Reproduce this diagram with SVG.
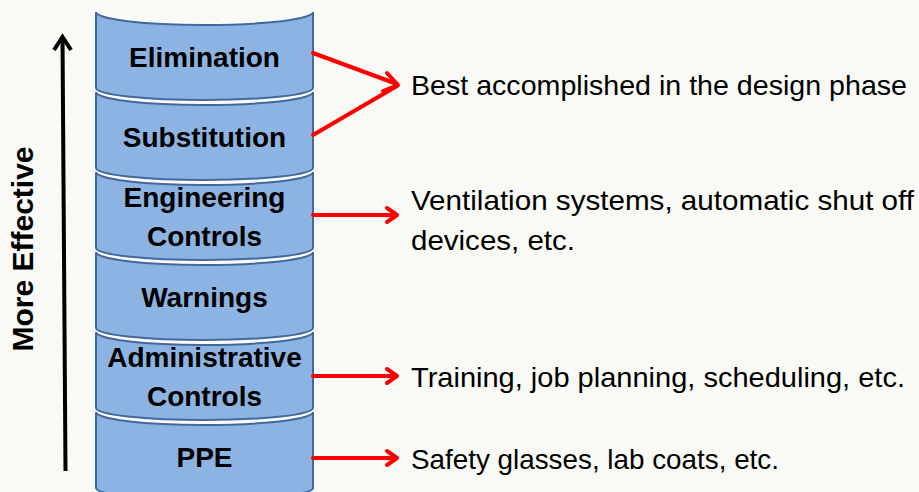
<svg xmlns="http://www.w3.org/2000/svg" width="919" height="492" viewBox="0 0 919 492">
<defs>
<style>
.cyl{fill:#8db3e2;stroke:#41699d;stroke-width:2}
.halo{fill:none;stroke:#ffffff;stroke-width:4}
.lbl{font-family:"Liberation Sans",Arial,sans-serif;font-weight:bold;font-size:28px;fill:#000;text-anchor:middle}
.txt{font-family:"Liberation Sans",Arial,sans-serif;font-size:28px;fill:#000}
.red{stroke:#ff0000;stroke-width:4;fill:none;stroke-linecap:round;stroke-linejoin:round}
</style>
<path id="cylShape" d="M96,0 A108.5,13 0 0 0 313,0 L313,76 A108.5,12 0 0 1 96,76 Z"/>
</defs>
<rect x="0" y="0" width="919" height="492" fill="#f9f9f5"/>
<g id="elimination">
<use href="#cylShape" class="halo" y="12"/>
<use href="#cylShape" class="cyl" y="12"/>
<text class="lbl" x="204.5" y="66.5">Elimination</text>
</g>
<g id="substitution">
<use href="#cylShape" class="halo" y="92"/>
<use href="#cylShape" class="cyl" y="92"/>
<text class="lbl" x="204.5" y="146.5">Substitution</text>
</g>
<g id="engineering">
<use href="#cylShape" class="halo" y="172"/>
<use href="#cylShape" class="cyl" y="172"/>
<text class="lbl" x="204.5" y="207">Engineering</text>
<text class="lbl" x="204.5" y="246">Controls</text>
</g>
<g id="warnings">
<use href="#cylShape" class="halo" y="252"/>
<use href="#cylShape" class="cyl" y="252"/>
<text class="lbl" x="204.5" y="306.5">Warnings</text>
</g>
<g id="administrative">
<use href="#cylShape" class="halo" y="332"/>
<use href="#cylShape" class="cyl" y="332"/>
<text class="lbl" x="204.5" y="367">Administrative</text>
<text class="lbl" x="204.5" y="406">Controls</text>
</g>
<g id="ppe">
<use href="#cylShape" class="halo" y="412"/>
<use href="#cylShape" class="cyl" y="412"/>
<text class="lbl" x="204.5" y="466.5">PPE</text>
</g>
<g id="axis">
<line x1="65.5" y1="471" x2="62.5" y2="37" stroke="#000" stroke-width="4"/>
<polyline points="54,50 62.5,37 71,50" fill="none" stroke="#000" stroke-width="4" stroke-linejoin="miter"/>
<text class="lbl" style="font-size:30px" transform="translate(33,249) rotate(-90)">More Effective</text>
</g>
<g id="connectors">
<line class="red" x1="313" y1="53" x2="397" y2="84"/>
<line class="red" x1="313" y1="135" x2="397" y2="86"/>
<polyline class="red" points="387,73 398,85 383,91"/>
<line class="red" x1="313" y1="215" x2="396" y2="215"/>
<polyline class="red" points="387,208 397,215 387,222"/>
<line class="red" x1="313" y1="376" x2="396" y2="376"/>
<polyline class="red" points="387,369 397,376 387,383"/>
<line class="red" x1="313" y1="458" x2="396" y2="458"/>
<polyline class="red" points="387,451 397,458 387,465"/>
</g>
<g id="notes">
<text class="txt" x="411" y="95" textLength="496" lengthAdjust="spacingAndGlyphs">Best accomplished in the design phase</text>
<text class="txt" x="411" y="210" textLength="503" lengthAdjust="spacingAndGlyphs">Ventilation systems, automatic shut off</text>
<text class="txt" x="411" y="250" textLength="164" lengthAdjust="spacingAndGlyphs">devices, etc.</text>
<text class="txt" x="411" y="387" textLength="494" lengthAdjust="spacingAndGlyphs">Training, job planning, scheduling, etc.</text>
<text class="txt" x="411" y="469" textLength="368" lengthAdjust="spacingAndGlyphs">Safety glasses, lab coats, etc.</text>
</g>
</svg>
